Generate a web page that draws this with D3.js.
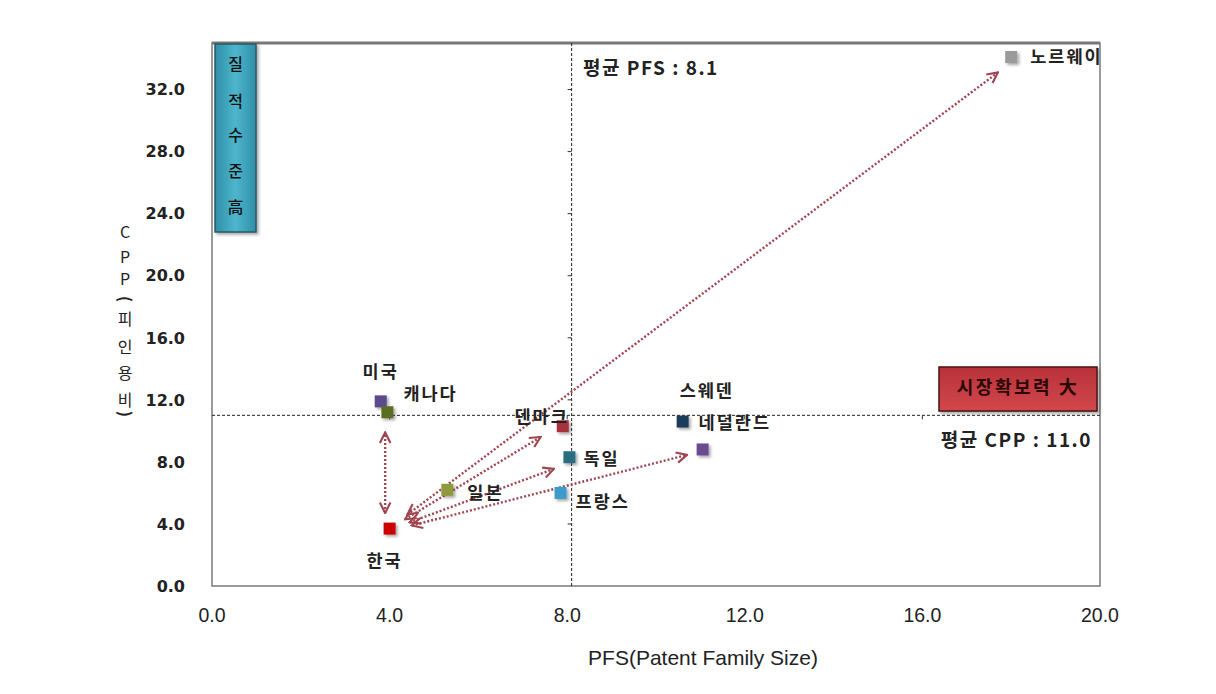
<!DOCTYPE html>
<html>
<head>
<meta charset="utf-8">
<script src="https://cdn.jsdelivr.net/npm/d3@7"></script>
<style>
  html, body { margin: 0; padding: 0; background: #ffffff; }
  svg { display: block; }
</style>
</head>
<body>
<script>
// ---------------- DATA ----------------
const countries = ["노르웨이", "미국", "캐나다", "한국", "일본", "덴마크", "독일", "프랑스", "스웨덴", "네덜란드"];
const pfsValues = [18.0, 3.8, 3.95, 4.0, 5.3, 7.9, 8.05, 7.85, 10.6, 11.05];
const cppValues = [34.1, 11.9, 11.2, 3.7, 6.2, 10.3, 8.3, 6.0, 10.6, 8.8];
const markerColors = ["#9a9a9a", "#5b4a8a", "#5a6e22", "#cc0000", "#8f9a3c", "#a8323a", "#2a6d80", "#3a9ccc", "#1f3c5a", "#6a4b92"];

const avgPFS = 8.1;
const avgCPP = 11.0;

const xTicks = [0, 4, 8, 12, 16, 20];
const yTicks = [0, 4, 8, 12, 16, 20, 24, 28, 32];

// arrows (data units): from -> to, double headed
const arrowFromX = [4.4, 4.35, 4.45, 4.5, 3.9];
const arrowFromY = [4.6, 4.3, 4.1, 3.9, 4.7];
const arrowToX   = [17.7, 7.4, 7.7, 10.7, 3.9];
const arrowToY   = [33.1, 9.6, 7.55, 8.45, 9.9];

const xTitle = "PFS(Patent Family Size)";
const yTitleChars = ["C", "P", "P", "(", "피", "인", "용", "비", ")"];
const qualityChars = ["질", "적", "수", "준", "高"];
const marketLabel = "시장확보력 大";

// ---------------- LAYOUT ----------------
const W = 1216, H = 694;
const labelLayout = [
  {dx: 19, dy: 0, anchor: "start"},
  {dx: 0, dy: -30, anchor: "middle"},
  {dx: 16, dy: -19, anchor: "start"},
  {dx: -5, dy: 32, anchor: "middle"},
  {dx: 20, dy: 3, anchor: "start"},
  {dx: 6, dy: -10, anchor: "end"},
  {dx: 14, dy: 1, anchor: "start"},
  {dx: 15, dy: 9, anchor: "start"},
  {dx: -3, dy: -31, anchor: "start"},
  {dx: -4, dy: -27, anchor: "start"}
];
const yTitleY = [232, 257, 279, 299, 319, 347, 373, 400, 414];
const qualityY = [64, 101, 135, 171, 207];

const x = d3.scaleLinear().domain([0, 20]).range([212, 1100]);
const y = d3.scaleLinear().domain([0, 35]).range([586, 43]);

const svg = d3.select("body").append("svg").attr("width", W).attr("height", H);
const defs = svg.append("defs");

// shadow filter
const f = defs.append("filter").attr("id", "shadow").attr("x", "-50%").attr("y", "-50%").attr("width", "200%").attr("height", "200%");
f.append("feDropShadow").attr("dx", 2).attr("dy", 2).attr("stdDeviation", 1.5).attr("flood-color", "#000").attr("flood-opacity", 0.35);

const gTeal = defs.append("linearGradient").attr("id", "gTeal").attr("x1", 0).attr("x2", 1).attr("y1", 0).attr("y2", 0);
gTeal.append("stop").attr("offset", 0).attr("stop-color", "#2f8fa8");
gTeal.append("stop").attr("offset", 0.5).attr("stop-color", "#4db6cc");
gTeal.append("stop").attr("offset", 1).attr("stop-color", "#2f8fa8");

const gRed = defs.append("linearGradient").attr("id", "gRed").attr("x1", 0).attr("x2", 0).attr("y1", 0).attr("y2", 1);
gRed.append("stop").attr("offset", 0).attr("stop-color", "#b8323a");
gRed.append("stop").attr("offset", 1).attr("stop-color", "#d0484c");

const arrowColor = "#a04550";
["arrowEnd", "arrowStart"].forEach((id, i) => {
  const m = defs.append("marker").attr("id", id)
    .attr("viewBox", "0 0 10 10").attr("refX", 9).attr("refY", 5)
    .attr("markerWidth", 5.5).attr("markerHeight", 5.5)
    .attr("orient", i === 0 ? "auto" : "auto-start-reverse")
    .attr("markerUnits", "strokeWidth");
  m.append("path").attr("d", "M1,1 L9,5 L1,9").attr("fill", "none")
    .attr("stroke", arrowColor).attr("stroke-width", 1.6);
});

// ---------------- FRAME ----------------
svg.append("rect")
  .attr("x", x(0)).attr("y", y(35))
  .attr("width", x(20) - x(0)).attr("height", y(0) - y(35))
  .attr("fill", "none").attr("stroke", "#7a7a7a").attr("stroke-width", 1.5);
svg.append("line").attr("x1", x(0)).attr("x2", x(20)).attr("y1", y(35)).attr("y2", y(35))
  .attr("stroke", "#777").attr("stroke-width", 3);

// ---------------- AVERAGE LINES ----------------
svg.append("line")
  .attr("x1", x(avgPFS)).attr("x2", x(avgPFS)).attr("y1", y(35)).attr("y2", y(0))
  .attr("stroke", "#222").attr("stroke-width", 1).attr("stroke-dasharray", "3,2");
svg.append("line")
  .attr("x1", x(0)).attr("x2", x(20)).attr("y1", y(avgCPP)).attr("y2", y(avgCPP))
  .attr("stroke", "#222").attr("stroke-width", 1).attr("stroke-dasharray", "3,2");

// inner tick marks on crossing axes
svg.append("g").selectAll("line").data(yTicks.slice(1)).join("line")
  .attr("x1", x(avgPFS) - 4).attr("x2", x(avgPFS)).attr("y1", d => y(d)).attr("y2", d => y(d))
  .attr("stroke", "#333").attr("stroke-width", 1);
svg.append("g").selectAll("line").data(xTicks.slice(1, -1)).join("line")
  .attr("x1", d => x(d)).attr("x2", d => x(d)).attr("y1", y(avgCPP)).attr("y2", y(avgCPP) + 4)
  .attr("stroke", "#333").attr("stroke-width", 1);

// ---------------- TICK LABELS ----------------
svg.append("g").selectAll("text").data(yTicks).join("text")
  .attr("x", 185).attr("y", d => y(d)).attr("dy", "0.36em")
  .attr("text-anchor", "end")
  .attr("font-family", "DejaVu Sans, sans-serif").attr("font-weight", "bold")
  .attr("font-size", 16).attr("fill", "#222")
  .text(d => d.toFixed(1));

svg.append("g").selectAll("text").data(xTicks).join("text")
  .attr("x", d => x(d)).attr("y", 615).attr("dy", "0.36em")
  .attr("text-anchor", "middle")
  .attr("font-family", "Liberation Sans, Arial, sans-serif")
  .attr("font-size", 19.5).attr("fill", "#222")
  .text(d => d.toFixed(1));

svg.append("text")
  .attr("x", 703).attr("y", 657).attr("dy", "0.36em").attr("text-anchor", "middle")
  .attr("font-family", "Liberation Sans, Arial, sans-serif")
  .attr("font-size", 21).attr("fill", "#222")
  .text(xTitle);

// y title, stacked characters
svg.append("g").selectAll("text").data(yTitleChars).join("text")
  .attr("transform", (d, i) => `translate(125,${yTitleY[i]})` + ((d === "(" || d === ")") ? " rotate(90)" : ""))
  .attr("dy", "0.36em").attr("text-anchor", "middle")
  .attr("font-family", "Noto Sans CJK KR, DejaVu Sans, sans-serif")
  .attr("font-weight", d => (d === "(" || d === ")") ? "bold" : "normal")
  .attr("font-size", 16).attr("fill", "#222")
  .text(d => d);

// ---------------- ANNOTATION BOXES ----------------
svg.append("rect").attr("x", 215).attr("y", 44).attr("width", 41).attr("height", 188)
  .attr("fill", "url(#gTeal)").attr("stroke", "#2a5866").attr("stroke-width", 1.5)
  .attr("filter", "url(#shadow)");
svg.append("g").selectAll("text").data(qualityChars).join("text")
  .attr("x", 235.5).attr("y", (d, i) => qualityY[i]).attr("dy", "0.36em")
  .attr("text-anchor", "middle")
  .attr("font-family", "Noto Sans CJK KR, sans-serif").attr("font-size", 16).attr("font-weight", 500)
  .attr("fill", "#111").text(d => d);

svg.append("rect").attr("x", 939).attr("y", 367).attr("width", 158).attr("height", 44)
  .attr("fill", "url(#gRed)").attr("stroke", "#4a1414").attr("stroke-width", 1.5)
  .attr("filter", "url(#shadow)");
svg.append("text").attr("x", 1018).attr("y", 388).attr("dy", "0.36em").attr("text-anchor", "middle")
  .attr("font-family", "Noto Sans CJK KR, sans-serif").attr("font-size", 18).attr("font-weight", "bold")
  .attr("letter-spacing", 2.5)
  .attr("fill", "#2a0808").text(marketLabel);

// average labels
svg.append("text").attr("x", 583).attr("y", 68).attr("dy", "0.36em")
  .attr("font-family", "Noto Sans CJK KR, sans-serif").attr("font-size", 19).attr("font-weight", "bold")
  .attr("letter-spacing", 1.5)
  .attr("fill", "#222").text("평균 PFS : " + avgPFS.toFixed(1));
svg.append("text").attr("x", 1092).attr("y", 440).attr("dy", "0.36em").attr("text-anchor", "end")
  .attr("font-family", "Noto Sans CJK KR, sans-serif").attr("font-size", 19).attr("font-weight", "bold")
  .attr("letter-spacing", 1.5)
  .attr("fill", "#222").text("평균 CPP : " + avgCPP.toFixed(1));

// ---------------- ARROWS ----------------
svg.append("g").selectAll("line").data(arrowFromX.map((d, i) => i)).join("line")
  .attr("x1", i => x(arrowFromX[i])).attr("y1", i => y(arrowFromY[i]))
  .attr("x2", i => x(arrowToX[i])).attr("y2", i => y(arrowToY[i]))
  .attr("stroke", arrowColor).attr("stroke-width", 2.4)
  .attr("stroke-dasharray", "2,2")
  .attr("marker-end", "url(#arrowEnd)").attr("marker-start", "url(#arrowStart)");

// ---------------- MARKERS ----------------
const pts = countries.map((c, i) => ({c, px: pfsValues[i], py: cppValues[i], col: markerColors[i], lay: labelLayout[i]}));
svg.append("g").selectAll("rect").data(pts).join("rect")
  .attr("x", d => x(d.px) - 6).attr("y", d => y(d.py) - 6)
  .attr("width", 12).attr("height", 12)
  .attr("fill", d => d.col).attr("filter", "url(#shadow)");

svg.append("g").selectAll("text").data(pts).join("text")
  .attr("x", d => x(d.px) + d.lay.dx).attr("y", d => y(d.py) + d.lay.dy).attr("dy", "0.36em")
  .attr("text-anchor", d => d.lay.anchor)
  .attr("font-family", "Noto Sans CJK KR, sans-serif").attr("font-size", 17.5).attr("font-weight", "bold")
  .attr("letter-spacing", 2)
  .attr("fill", "#222").text(d => d.c);
</script>
</body>
</html>
